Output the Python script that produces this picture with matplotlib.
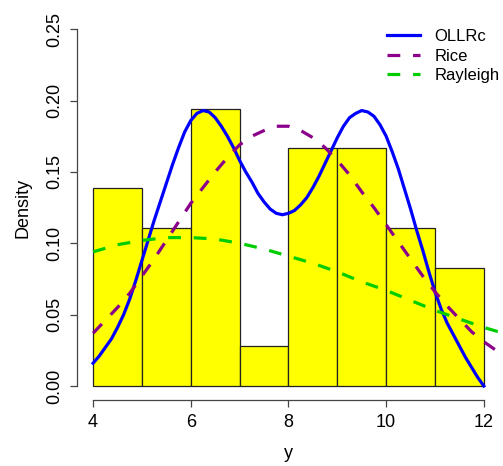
import numpy as np
import matplotlib
matplotlib.use("Agg")
import matplotlib.pyplot as plt

plt.rcParams['font.family'] = ['Liberation Sans', 'DejaVu Sans']

# histogram of y (density scale)
bin_edges = [4, 5, 6, 7, 8, 9, 10, 11, 12]
bin_density = [0.139, 0.111, 0.194, 0.028, 0.167, 0.167, 0.111, 0.083]

# fitted density curves
ollrc_x = [4.0, 4.125, 4.25, 4.375, 4.5, 4.625, 4.75, 4.875, 5.0, 5.125, 5.25, 5.375,
           5.5, 5.625, 5.75, 5.875, 6.0, 6.125, 6.25, 6.375, 6.5, 6.625, 6.75, 6.875,
           7.0, 7.125, 7.25, 7.375, 7.5, 7.625, 7.75, 7.875, 8.0, 8.125, 8.25, 8.375,
           8.5, 8.625, 8.75, 8.875, 9.0, 9.125, 9.25, 9.375, 9.5, 9.625, 9.75, 9.875,
           10.0, 10.125, 10.25, 10.375, 10.5, 10.625, 10.75, 10.875, 11.0, 11.125, 11.25, 11.375,
           11.5, 11.625, 11.75, 11.875, 12.0]
ollrc_y = [0.016, 0.021, 0.027, 0.033, 0.041, 0.050, 0.061, 0.074, 0.088, 0.102, 0.116, 0.129,
           0.142, 0.155, 0.167, 0.178, 0.186, 0.191, 0.193, 0.192, 0.188, 0.182, 0.175, 0.167,
           0.158, 0.150, 0.143, 0.135, 0.129, 0.124, 0.121, 0.120, 0.121, 0.123, 0.127, 0.132,
           0.139, 0.147, 0.156, 0.165, 0.174, 0.182, 0.188, 0.191, 0.193, 0.192, 0.189, 0.183,
           0.175, 0.164, 0.152, 0.138, 0.124, 0.109, 0.095, 0.080, 0.066, 0.054, 0.044, 0.036,
           0.028, 0.020, 0.013, 0.006, 0.0]

rice_x = [4.0, 4.25, 4.5, 4.75, 5.0, 5.25, 5.5, 5.75, 6.0, 6.25, 6.5, 6.75,
          7.0, 7.25, 7.5, 7.75, 8.0, 8.25, 8.5, 8.75, 9.0, 9.25, 9.5, 9.75,
          10.0, 10.25, 10.5, 10.75, 11.0, 11.25, 11.5, 11.75, 12.0, 12.25, 12.5]
rice_y = [0.037, 0.046, 0.055, 0.065, 0.077, 0.089, 0.102, 0.115, 0.128, 0.139, 0.150, 0.160,
          0.169, 0.175, 0.179, 0.182, 0.182, 0.179, 0.174, 0.167, 0.158, 0.148, 0.136, 0.125,
          0.113, 0.101, 0.089, 0.077, 0.066, 0.056, 0.047, 0.038, 0.031, 0.025, 0.020]

rayleigh_x = [4.0, 4.5, 5.0, 5.5, 6.0, 6.5, 7.0, 7.5, 8.0, 8.5, 9.0, 9.5,
              10.0, 10.5, 11.0, 11.5, 12.0, 12.5]
rayleigh_y = [0.094, 0.099, 0.102, 0.104, 0.104, 0.103, 0.100, 0.096, 0.091, 0.086, 0.080, 0.073,
              0.067, 0.060, 0.053, 0.047, 0.041, 0.036]

x_ticks = [4, 6, 8, 10, 12]
y_ticks = [0.00, 0.05, 0.10, 0.15, 0.20, 0.25]

fig = plt.figure(figsize=(5.03, 4.66), dpi=100)
ax = fig.add_axes([0.154, 0.141, 0.839, 0.827])

ax.bar(bin_edges[:-1], bin_density, width=np.diff(bin_edges), align='edge',
       color='#FFFF00', edgecolor='#222222', linewidth=0.9, zorder=1)

ax.plot(ollrc_x, ollrc_y, color='#0000FF', lw=2.3, label='OLLRc', zorder=3,
        solid_joinstyle='round')
ax.plot(rice_x, rice_y, color='#8B008B', lw=2.3, ls=(0, (4, 4)), label='Rice', zorder=3)
ax.plot(rayleigh_x, rayleigh_y, color='#00CD00', lw=2.3, ls=(0, (4, 4)), label='Rayleigh', zorder=3)

ax.set_xlim(3.68, 12.32)
ax.set_ylim(-0.01, 0.26)
ax.set_xticks(x_ticks)
ax.set_xticklabels([str(t) for t in x_ticks])
ax.set_yticks(y_ticks)
ax.set_yticklabels(['%.2f' % t for t in y_ticks], rotation=90, va='center')

for s in ['top', 'right']:
    ax.spines[s].set_visible(False)
ax.spines['left'].set_bounds(0, 0.25)
ax.spines['bottom'].set_bounds(4, 12)
for s in ['left', 'bottom']:
    ax.spines[s].set_color('#444444')
    ax.spines[s].set_linewidth(0.9)
ax.tick_params(axis='both', direction='out', length=5, width=0.9, color='#444444',
               labelsize=13, pad=5)

ax.set_xlabel('y', fontsize=13, labelpad=10)
ax.set_ylabel('Density', fontsize=13, labelpad=11)

ax.legend(loc='upper right', bbox_to_anchor=(1.0, 0.945), bbox_transform=fig.transFigure,
          frameon=False, fontsize=12, handlelength=1.95, handletextpad=0.9,
          labelspacing=0.28, borderpad=0.2, borderaxespad=0)

fig.savefig('out.png', dpi=100)
